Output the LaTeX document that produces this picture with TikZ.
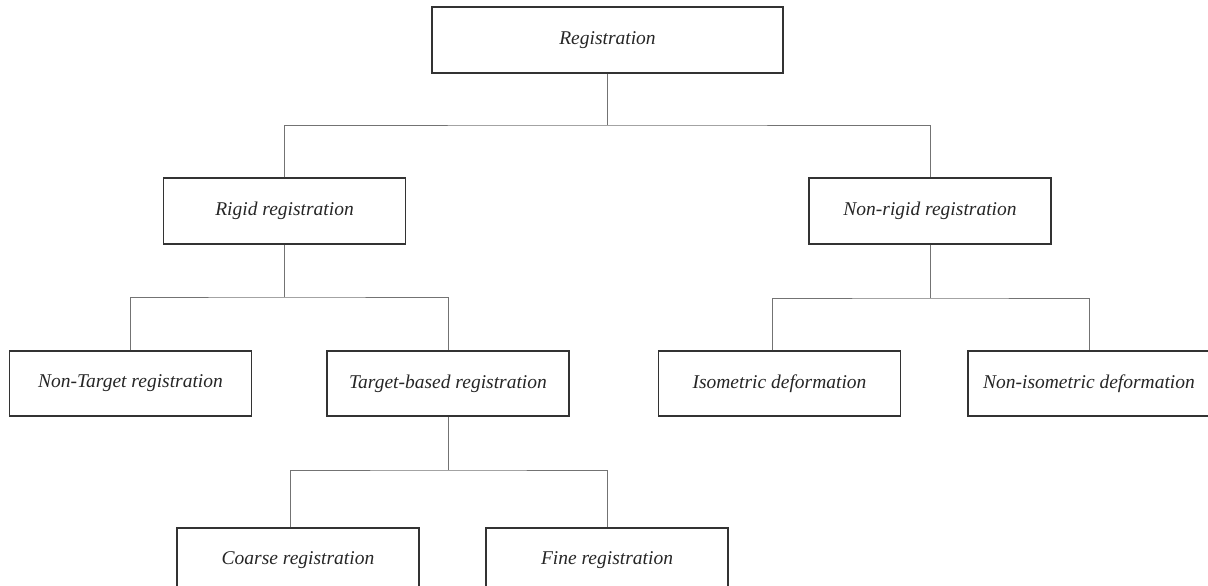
\documentclass[tikz,border=0pt]{standalone}
\usepackage{fontspec}
\setmainfont{Liberation Serif}
\begin{document}
\begin{tikzpicture}[x=1pt,y=-1pt,
  box/.style={draw=black!80, line width=1.3pt, fill=white, inner sep=0pt,
    minimum width=242pt, minimum height=65pt,
    font=\fontsize{19.5}{23}\selectfont\itshape, text=black!85},
  conn/.style={draw=black!55, line width=0.9pt}]
\useasboundingbox (0,0) rectangle (1208,586);
\clip (0,0) rectangle (1208,586);
\fill[white] (0,0) rectangle (1208,586);

\node[box, minimum width=351pt, minimum height=66pt] (reg) at (607.5,40) {Registration};
\node[box, minimum height=66pt] (rigid) at (284.5,211) {Rigid registration};
\node[box, minimum height=66pt] (nonrigid) at (930,211) {Non-rigid registration};
\node[box] (nontarget) at (130.5,383.5) {Non-Target registration};
\node[box] (target) at (448,383.5) {Target-based registration};
\node[box] (iso) at (779.5,383.5) {Isometric deformation};
\node[box] (noniso) at (1089,383.5) {Non-isometric deformation};
\node[box] (coarse) at (298,560.5) {Coarse registration};
\node[box] (fine) at (607,560.5) {Fine registration};

\coordinate (b1) at (607.5,125);
\coordinate (b2) at (284.5,297);
\coordinate (b3) at (930,298);
\coordinate (b4) at (448,470);

\draw[conn] (reg.south) -- (b1);
\draw[conn] (rigid.north) |- (b1) -| (nonrigid.north);
\draw[conn] (rigid.south) -- (b2);
\draw[conn] (nontarget.north) |- (b2) -| (target.north);
\draw[conn] (nonrigid.south) -- (b3);
\draw[conn] ([xshift=-7.5pt]iso.north) |- (b3) -| (noniso.north);
\draw[conn] (target.south) -- (b4);
\draw[conn] ([xshift=-8pt]coarse.north) |- (b4) -| (fine.north);
\end{tikzpicture}
\end{document}
